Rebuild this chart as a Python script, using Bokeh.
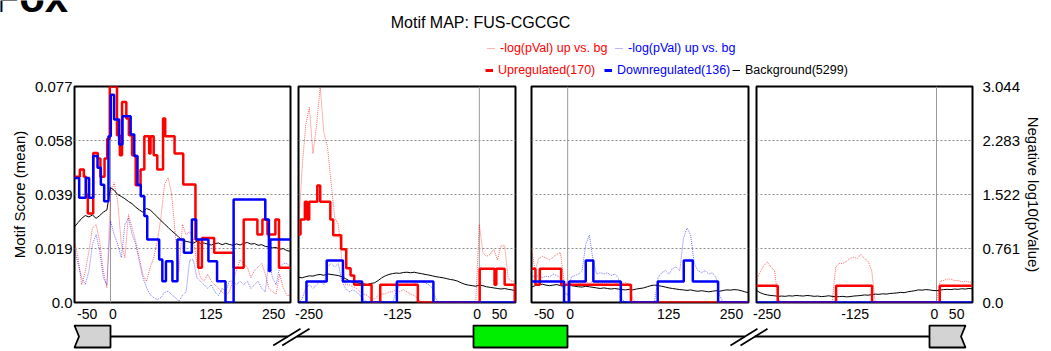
from bokeh.plotting import figure
from bokeh.layouts import column, row
from bokeh.models import (Range1d, LinearAxis, FixedTicker, Span, Label, Legend,
                          LegendItem, Grid)
from bokeh.embed import file_html
from bokeh.resources import INLINE

# ---------------- texts ----------------
CORNER_TEXT = "Fox"
TITLE = "Motif MAP: FUS-CGCGC"
PUP_LABEL = "-log(pVal) up vs. bg"
PDN_LABEL = "-log(pVal) up vs. bg"
UP_LABEL = "Upregulated(170)"
DN_LABEL = "Downregulated(136)"
BG_LABEL = "Background(5299)"
Y_LEFT_TITLE = "Motif Score (mean)"
Y_RIGHT_TITLE = "Negative log10(pValue)"

# ---------------- axes ----------------
SCORE_MAX = 0.077
PVAL_MAX = 3.044
score_ticks = [0, 0.01925, 0.0385, 0.05775, 0.077]
score_labels = ["0.0", "0.019", "0.039", "0.058", "0.077"]
pval_ticks = [0, 0.761, 1.522, 2.283, 3.044]
pval_labels = ["0.0", "0.761", "1.522", "2.283", "3.044"]

# x tick labels of the panels (type a: panels 1 & 3, type b: panels 2 & 4)
xlabels_a = ["-50", "0", "125", "250"]
xlabels_b = ["-250", "-125", "0", "50"]
# where these labels sit along each panel (layout)
xlabel_pos_a = [-32.5, 3.3, 139.5, 226.5]
xlabel_pos_b = [-235.4, -113.0, -3.0, 28.0]

# sampling positions of the smooth series
xs_a = list(range(-50, 251, 5))
xs_b = list(range(-250, 51, 5))

# ---------------- panel 1 (-50 .. 250) ----------------
p1_up_x = [-50, -42.6, -37, -34, -31.5, -24, -17.6, -14, -8.3, -4.6, -1, 9, 13, 16, 22,
           25.5, 30, 35, 41.7, 47, 53.7, 55.6, 60, 65, 73, 76, 89, 101, 118, 122, 127,
           144, 171, 185, 204, 211, 218, 229, 234]
p1_up_y = [0.0448, 0.0474, 0.0448, 0.0385, 0.0317, 0.0533, 0.0513, 0.0448, 0.0513, 0.0584,
           0.0770, 0.0596, 0.0525, 0.0715, 0.0656, 0.0596, 0.0525, 0.0418, 0.0474, 0.0593,
           0.0531, 0.0593, 0.0525, 0.0474, 0.0656, 0.0593, 0.0531, 0.0421, 0.0225, 0.0124,
           0.0230, 0.0177, 0.0124, 0.0296, 0.0242, 0.0296, 0.0242, 0.0296, 0.0124]
p1_dn_x = [-50, -43.5, -34.3, -29.7, -24, -18, -13.4, -8.8, -2.8, 0.4, 5, 12, 16.6, 28,
           33, 37.5, 42, 47, 51, 67.6, 72, 77, 86, 93, 102, 113, 119, 136, 148, 159.7,
           171, 215, 220, 222]
p1_dn_y = [0.0444, 0.0373, 0.0444, 0.0373, 0.0522, 0.0480, 0.0420, 0.0361, 0.0593, 0.0741,
           0.0652, 0.0563, 0.0664, 0.0599, 0.0522, 0.0420, 0.0379, 0.0308, 0.0225, 0.0153,
           0.0076, 0.0147, 0.0076, 0.0225, 0.0177, 0.0296, 0.0225, 0.0147, 0.0076, 0.0,
           0.0367, 0.0296, 0.0112, 0.0225]
p1_bg = [0.0270, 0.0285, 0.0300, 0.0310, 0.0305, 0.0312, 0.0300, 0.0310, 0.0322, 0.0330,
         0.0410, 0.0400, 0.0385, 0.0378, 0.0370, 0.0360, 0.0352, 0.0340, 0.0330, 0.0322,
         0.0335, 0.0330, 0.0318, 0.0305, 0.0292, 0.0280, 0.0268, 0.0255, 0.0245, 0.0232,
         0.0222, 0.0218, 0.0215, 0.0212, 0.0218, 0.0210, 0.0212, 0.0208, 0.0205, 0.0210,
         0.0212, 0.0206, 0.0211, 0.0207, 0.0204, 0.0209, 0.0205, 0.0211, 0.0214, 0.0208,
         0.0210, 0.0204, 0.0206, 0.0200, 0.0198, 0.0195, 0.0196, 0.0190, 0.0192, 0.0185,
         0.0182]
p1_pup = [0.86, 0.63, 0.25, 0.44, 0.72, 1.05, 1.10, 0.86, 0.44, 0.21,
          1.52, 1.69, 1.43, 0.82, 0.63, 1.24, 1.05, 0.86, 0.63, 0.39,
          0.30, 0.49, 0.63, 0.86, 1.19, 1.66, 1.76, 1.52, 0.96, 0.44,
          1.10, 0.95, 1.00, 0.90, 0.55, 0.35, 0.30, 0.40, 0.30, 0.25,
          0.20, 0.15, 0.10, 0.15, 0.30, 0.45, 0.60, 0.55, 0.50, 0.35,
          0.45, 0.50, 0.55, 0.40, 0.20, 0.15, 0.12, 0.40, 0.20, 0.10,
          0.10]
p1_pdn = [0.75, 0.54, 0.35, 0.25, 0.44, 0.82, 0.96, 0.72, 0.35, 0.25,
          1.15, 0.96, 0.82, 0.63, 1.10, 1.19, 0.96, 0.82, 0.58, 0.35,
          0.21, 0.11, 0.07, 0.04, 0.07, 0.14, 0.16, 0.11, 0.07, 0.02,
          0.10, 0.15, 0.60, 0.60, 0.35, 0.30, 0.25, 0.20, 0.25, 0.15,
          0.10, 0.20, 0.15, 0.30, 0.30, 0.25, 0.30, 0.25, 0.30, 0.20,
          0.25, 0.30, 0.20, 0.15, 0.60, 0.35, 0.25, 0.50, 0.55, 0.55,
          0.50]

# ---------------- panel 2 (-250 .. 50) ----------------
p2_up_x = [-250, -247.2, -241.2, -238, -235.2, -224, -220, -206, -202, -191, -184, -178,
           -173, -149, -137, -85, 0.5, 21, 23.5, 35, 49]
p2_up_y = [0.0242, 0.0296, 0.0359, 0.0296, 0.0359, 0.0417, 0.0359, 0.0296, 0.0240, 0.0190,
           0.0122, 0.0096, 0.0063, 0.0, 0.0063, 0.0, 0.0120, 0.0063, 0.0120, 0.0063, 0.0]
p2_dn_x = [-250, -239, -211, -188.5, -162, -114, -63.5]
p2_dn_y = [0.0, 0.0075, 0.0150, 0.0075, 0.0, 0.0075, 0.0]
p2_bg = [0.0090, 0.0088, 0.0092, 0.0095, 0.0094, 0.0098, 0.0100, 0.0097, 0.0102, 0.0100,
         0.0098, 0.0096, 0.0092, 0.0085, 0.0078, 0.0072, 0.0070, 0.0068, 0.0066, 0.0064,
         0.0068, 0.0070, 0.0078, 0.0088, 0.0095, 0.0100, 0.0103, 0.0105, 0.0104, 0.0107,
         0.0108, 0.0106, 0.0108, 0.0105, 0.0103, 0.0100, 0.0098, 0.0095, 0.0092, 0.0090,
         0.0088, 0.0085, 0.0082, 0.0080, 0.0076, 0.0070, 0.0065, 0.0062, 0.0060, 0.0058,
         0.0062, 0.0060, 0.0056, 0.0054, 0.0052, 0.0050, 0.0048, 0.0050, 0.0047, 0.0045,
         0.0042]
p2_pup = [1.00, 1.90, 2.50, 2.75, 2.10, 2.50, 3.04, 2.40, 2.20, 1.70,
          1.20, 1.10, 0.60, 0.25, 0.25, 0.22, 0.20, 0.15, 0.12, 0.10,
          0.05, 0.05, 0.10, 0.12, 0.12, 0.15, 0.15, 0.18, 0.15, 0.18,
          0.15, 0.12, 0.10, 0.05, 0.00, 0.00, 0.00, 0.00, 0.00, 0.00,
          0.00, 0.00, 0.00, 0.00, 0.00, 0.00, 0.00, 0.00, 0.00, 0.00,
          1.10, 0.70, 0.65, 0.68, 0.75, 0.60, 0.80, 0.80, 0.33, 0.30,
          0.30]
p2_pdn = [0.00, 0.05, 0.20, 0.25, 0.20, 0.25, 0.30, 0.25, 0.50, 0.55,
          0.50, 0.55, 0.30, 0.20, 0.15, 0.18, 0.15, 0.10, 0.05, 0.00,
          0.00, 0.00, 0.00, 0.00, 0.00, 0.00, 0.00, 0.15, 0.25, 0.24,
          0.26, 0.25, 0.27, 0.28, 0.30, 0.28, 0.25, 0.20, 0.05, 0.00,
          0.00, 0.00, 0.00, 0.00, 0.00, 0.00, 0.00, 0.00, 0.00, 0.00,
          0.00, 0.00, 0.00, 0.00, 0.00, 0.00, 0.00, 0.00, 0.00, 0.00,
          0.00]

# ---------------- panel 3 (-50 .. 250) ----------------
p3_up_x = [-50, -44.5, -38.5, -9, 87.5]
p3_up_y = [0.0120, 0.0063, 0.0120, 0.0063, 0.0]
p3_dn_x = [-50, -5, 2, 25, 35.5, 73.5, 124.5, 160.5, 173, 208]
p3_dn_y = [0.0075, 0.0, 0.0075, 0.0150, 0.0075, 0.0, 0.0075, 0.0150, 0.0075, 0.0]
p3_bg = [0.0055, 0.0060, 0.0063, 0.0065, 0.0062, 0.0060, 0.0062, 0.0064, 0.0060, 0.0058,
         0.0062, 0.0060, 0.0058, 0.0056, 0.0055, 0.0058, 0.0056, 0.0054, 0.0052, 0.0050,
         0.0052, 0.0050, 0.0048, 0.0050, 0.0048, 0.0046, 0.0045, 0.0047, 0.0045, 0.0048,
         0.0050, 0.0052, 0.0056, 0.0060, 0.0062, 0.0060, 0.0058, 0.0055, 0.0052, 0.0050,
         0.0048, 0.0046, 0.0045, 0.0043, 0.0045, 0.0042, 0.0040, 0.0042, 0.0040, 0.0038,
         0.0040, 0.0042, 0.0040, 0.0043, 0.0045, 0.0044, 0.0046, 0.0045, 0.0042, 0.0038,
         0.0035]
p3_pup = [0.75, 0.45, 0.62, 0.65, 0.63, 0.60, 0.64, 0.68, 0.70, 0.30,
          0.28, 0.27, 0.30, 0.26, 0.28, 0.29, 0.27, 0.30, 0.28, 0.26,
          0.28, 0.27, 0.29, 0.28, 0.26, 0.27, 0.28, 0.26, 0.05, 0.00,
          0.00, 0.00, 0.00, 0.00, 0.00, 0.00, 0.00, 0.00, 0.00, 0.00,
          0.00, 0.00, 0.00, 0.00, 0.00, 0.00, 0.00, 0.00, 0.00, 0.00,
          0.00, 0.00, 0.00, 0.00, 0.00, 0.00, 0.00, 0.00, 0.00, 0.00,
          0.00]
p3_pdn = [0.38, 0.36, 0.38, 0.35, 0.37, 0.36, 0.40, 0.38, 0.35, 0.15,
          0.10, 0.36, 0.38, 0.40, 0.45, 0.82, 0.95, 0.60, 0.40, 0.42,
          0.40, 0.42, 0.38, 0.40, 0.35, 0.05, 0.00, 0.00, 0.00, 0.00,
          0.00, 0.00, 0.00, 0.00, 0.00, 0.35, 0.42, 0.45, 0.40, 0.48,
          0.50, 0.45, 0.90, 1.05, 0.95, 0.55, 0.45, 0.42, 0.45, 0.40,
          0.42, 0.35, 0.10, 0.00, 0.00, 0.00, 0.00, 0.00, 0.00, 0.00,
          0.00]

# ---------------- panel 4 (-250 .. 50) ----------------
p4_up_x = [-250, -220.5, -139.5, -89.5, 4.5]
p4_up_y = [0.0060, 0.0, 0.0060, 0.0, 0.0060]
p4_dn_x = [-250]
p4_dn_y = [0.0]
p4_bg = [0.0043, 0.0035, 0.0030, 0.0027, 0.0025, 0.0024, 0.0022, 0.0023, 0.0022, 0.0024,
         0.0023, 0.0025, 0.0024, 0.0023, 0.0025, 0.0024, 0.0022, 0.0023, 0.0021, 0.0022,
         0.0024, 0.0022, 0.0020, 0.0021, 0.0022, 0.0020, 0.0021, 0.0023, 0.0024, 0.0025,
         0.0027, 0.0026, 0.0028, 0.0030, 0.0029, 0.0031, 0.0030, 0.0032, 0.0033, 0.0034,
         0.0036, 0.0035, 0.0038, 0.0040, 0.0042, 0.0045, 0.0044, 0.0046, 0.0045, 0.0043,
         0.0042, 0.0044, 0.0046, 0.0047, 0.0046, 0.0048, 0.0047, 0.0049, 0.0048, 0.0050,
         0.0049]
p4_pup = [0.33, 0.42, 0.52, 0.57, 0.50, 0.45, 0.05, 0.00, 0.00, 0.00,
          0.00, 0.00, 0.00, 0.00, 0.00, 0.00, 0.00, 0.00, 0.00, 0.00,
          0.00, 0.00, 0.50, 0.55, 0.55, 0.58, 0.62, 0.64, 0.62, 0.68,
          0.62, 0.58, 0.45, 0.00, 0.00, 0.00, 0.00, 0.00, 0.00, 0.00,
          0.00, 0.00, 0.00, 0.00, 0.00, 0.00, 0.00, 0.00, 0.00, 0.00,
          0.00, 0.30, 0.31, 0.33, 0.33, 0.31, 0.31, 0.29, 0.30, 0.29,
          0.28]
p4_pdn = [0.00, 0.00, 0.00, 0.00, 0.00, 0.00, 0.00, 0.00, 0.00, 0.00,
          0.00, 0.00, 0.00, 0.00, 0.00, 0.00, 0.00, 0.00, 0.00, 0.00,
          0.00, 0.00, 0.00, 0.00, 0.00, 0.00, 0.00, 0.00, 0.00, 0.00,
          0.00, 0.00, 0.00, 0.00, 0.00, 0.00, 0.00, 0.00, 0.00, 0.00,
          0.00, 0.00, 0.00, 0.00, 0.00, 0.00, 0.00, 0.00, 0.00, 0.00,
          0.00, 0.00, 0.00, 0.00, 0.00, 0.00, 0.00, 0.00, 0.00, 0.00,
          0.00]

# ---------------- styling ----------------
SANS = "Liberation Sans"
RED = "#ff0000"
BLUE = "#0000ff"
TOTAL_W = 1051
TOP_H = 78
PANEL_H = 246
DIAG_H = 27


def make_panel(xr, xs, up_x, up_y, dn_x, dn_y, bg, pup, pdn, xlabels, xlabel_pos,
               width, bl, br, left_axis=False, right_axis=False):
    p = figure(width=width, height=PANEL_H, x_range=Range1d(*xr),
               y_range=Range1d(0, SCORE_MAX), output_backend="svg",
               toolbar_location=None, x_axis_location="below",
               y_axis_location="left" if left_axis else None,
               min_border_left=bl, min_border_right=br, min_border_top=8,
               min_border_bottom=22, background_fill_color="white",
               border_fill_color="white")
    p.extra_y_ranges = {"pval": Range1d(0, PVAL_MAX)}
    p.outline_line_color = "black"
    p.outline_line_width = 2
    for g in p.grid:
        g.visible = False
    p.add_layout(Grid(dimension=1, ticker=FixedTicker(ticks=score_ticks[1:-1], minor_ticks=[]),
                      grid_line_color="#8c8c8c", grid_line_dash="2 2", grid_line_width=1))
    p.add_layout(Span(location=0, dimension="height", line_color="#9a9a9a",
                      line_width=1, level="underlay"))

    xa = p.xaxis[0]
    xa.ticker = FixedTicker(ticks=xlabel_pos, minor_ticks=[])
    xa.major_label_overrides = dict(zip(xlabel_pos, xlabels))
    xa.major_label_text_font = SANS
    xa.major_label_text_font_size = "14px"
    xa.major_label_text_color = "black"
    xa.major_label_standoff = 6
    xa.major_tick_out = 0
    xa.major_tick_in = 0
    xa.minor_tick_out = 0
    xa.minor_tick_in = 0
    xa.axis_line_color = None

    if left_axis:
        ya = p.yaxis[0]
        ya.ticker = FixedTicker(ticks=score_ticks, minor_ticks=[])
        ya.major_label_overrides = dict(zip(score_ticks, score_labels))
        ya.axis_label = Y_LEFT_TITLE
        ya.axis_label_text_font = SANS
        ya.axis_label_text_font_size = "15px"
        ya.axis_label_text_font_style = "normal"
        ya.axis_label_text_color = "black"
        ya.axis_label_standoff = 4
        ya.major_label_text_font = SANS
        ya.major_label_text_font_size = "15px"
        ya.major_label_text_color = "black"
        ya.major_label_standoff = 2
        ya.major_tick_out = 0
        ya.major_tick_in = 0
        ya.minor_tick_out = 0
        ya.minor_tick_in = 0
        ya.axis_line_color = None
    if right_axis:
        ra = LinearAxis(y_range_name="pval",
                        ticker=FixedTicker(ticks=pval_ticks, minor_ticks=[]),
                        major_label_overrides=dict(zip(pval_ticks, pval_labels)),
                        axis_label=Y_RIGHT_TITLE,
                        axis_label_text_font=SANS, axis_label_text_font_size="15px",
                        axis_label_text_font_style="normal", axis_label_text_color="black",
                        axis_label_standoff=2,
                        major_label_text_font=SANS, major_label_text_font_size="15px",
                        major_label_text_color="black", major_label_standoff=10,
                        major_tick_out=0, major_tick_in=0, minor_tick_out=0,
                        minor_tick_in=0, axis_line_color=None)
        p.add_layout(ra, "right")

    end = xr[1]
    p.line(xs, pup, y_range_name="pval", line_color=RED, line_alpha=0.6,
           line_dash="1 1", line_width=1)
    p.line(xs, pdn, y_range_name="pval", line_color=BLUE, line_alpha=0.55,
           line_dash="1 1", line_width=1)
    p.line(xs, bg, line_color="black", line_width=1)
    p.step(up_x + [end], up_y + [up_y[-1]], mode="after", line_color=RED, line_width=2.5)
    p.step(dn_x + [end], dn_y + [dn_y[-1]], mode="after", line_color=BLUE, line_width=2.5)
    return p


p1 = make_panel((-50, 250), xs_a, p1_up_x, p1_up_y, p1_dn_x, p1_dn_y, p1_bg, p1_pup, p1_pdn,
                xlabels_a, xlabel_pos_a, 294, 74, 4, left_axis=True)
p2 = make_panel((-250, 50), xs_b, p2_up_x, p2_up_y, p2_dn_x, p2_dn_y, p2_bg, p2_pup, p2_pdn,
                xlabels_b, xlabel_pos_b, 229, 4, 8)
p3 = make_panel((-50, 250), xs_a, p3_up_x, p3_up_y, p3_dn_x, p3_dn_y, p3_bg, p3_pup, p3_pdn,
                xlabels_a, xlabel_pos_a, 229, 8, 4)
p4 = make_panel((-250, 50), xs_b, p4_up_x, p4_up_y, p4_dn_x, p4_dn_y, p4_bg, p4_pup, p4_pdn,
                xlabels_b, xlabel_pos_b, 299, 4, 79, right_axis=True)

# ---------------- header: title + legends ----------------
ph = figure(width=TOTAL_W, height=TOP_H, x_range=Range1d(0, 1), y_range=Range1d(0, 1),
            output_backend="svg", toolbar_location=None, x_axis_location=None,
            y_axis_location=None, min_border=0, outline_line_color=None)
for g in ph.grid:
    g.visible = False
ph.add_layout(Label(x=-7, y=81.5, x_units="screen", y_units="screen", text=CORNER_TEXT,
                    text_font=SANS, text_font_size="42px", text_font_style="bold",
                    text_baseline="middle", text_color="black"))
ph.add_layout(Label(x=480, y=56, x_units="screen", y_units="screen", text=TITLE,
                    text_font=SANS, text_font_size="16px", text_align="center",
                    text_baseline="middle", text_color="black"))


def add_legend(label, color, dash, width, alpha, x, y):
    r = ph.line([0, 1], [-5, -5], line_color=color, line_dash=dash, line_width=width,
                line_alpha=alpha)
    leg = Legend(items=[LegendItem(label=label, renderers=[r])], location=(x, y),
                 orientation="horizontal", border_line_color=None,
                 background_fill_alpha=0, padding=0, margin=0, spacing=0,
                 glyph_width=8, glyph_height=16, label_height=16, label_width=10,
                 label_standoff=5, label_text_font=SANS, label_text_font_size="12.5px",
                 label_text_color=color)
    ph.add_layout(leg)


add_legend(PUP_LABEL, RED, "1 1", 1, 0.6, 487, 22)
add_legend(PDN_LABEL, BLUE, "1 1", 1, 0.55, 615, 22)
add_legend(UP_LABEL, RED, "solid", 3, 1.0, 485, 0)
add_legend(DN_LABEL, BLUE, "solid", 3, 1.0, 604, 0)
add_legend(BG_LABEL, "black", "solid", 1, 1.0, 732, 0)

# ---------------- gene structure diagram ----------------
pd_ = figure(width=TOTAL_W, height=DIAG_H, x_range=Range1d(0, TOTAL_W),
             y_range=Range1d(324 + DIAG_H, 324), output_backend="svg",
             toolbar_location=None, x_axis_location=None, y_axis_location=None,
             min_border=0, outline_line_color=None)
for g in pd_.grid:
    g.visible = False
yc = 336
pd_.segment(x0=[110, 296.4, 567, 754.3], y0=[yc] * 4, x1=[287.4, 473, 744.3, 929],
            y1=[yc] * 4, line_color="black", line_width=1.8)
pd_.segment(x0=[272.7, 281.7, 730, 740], y0=[345] * 4, x1=[300, 309, 757, 767],
            y1=[328.3] * 4, line_color="black", line_width=1.8)
pd_.patch([74, 110, 110, 74, 78.5], [325, 325, 347, 347, yc], fill_color="#d3d3d3",
          line_color="black", line_width=1.8)
pd_.quad(left=[473], right=[567], top=[325], bottom=[347], fill_color="#00ee00",
         line_color="black", line_width=1.8)
pd_.patch([929, 965, 960.5, 965, 929], [325, 325, yc, 347, 347], fill_color="#d3d3d3",
          line_color="black", line_width=1.8)

layout = column(ph, row(p1, p2, p3, p4), pd_)
open("out.html", "w").write(file_html(layout, INLINE))
